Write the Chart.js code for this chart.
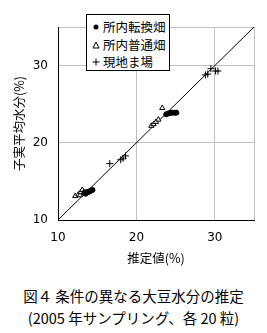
<!DOCTYPE html>
<html>
<head>
<meta charset="utf-8">
<script src="https://cdn.jsdelivr.net/npm/chart.js@4"></script>
<style>
    body { margin: 0; background: #fff; }
    #wrap { position: relative; width: 267px; height: 333px; font-family: "Noto Sans CJK JP", sans-serif; }
    #grafico { position: absolute; left: 0; top: 0; }
    #legenda { position: absolute; left: 86px; top: 14px; width: 82px; height: 55px; border: 1px solid #000; background: #fff; font-size: 12.5px; }
    .item { position: absolute; left: 0; height: 18px; line-height: 18px; white-space: nowrap; }
    .item svg { position: absolute; left: 5px; top: 5px; }
    .item span { position: absolute; left: 16px; top: 0; }
    .legenda_fig { position: absolute; left: 0; width: 267px; text-align: center; font-size: 14.5px; white-space: nowrap; }
</style>
</head>
<body>
<div id="wrap">
    <canvas id="grafico" width="267" height="270"></canvas>
    <div id="legenda"></div>
    <div class="legenda_fig" style="top: 285px;">図４ 条件の異なる大豆水分の推定</div>
    <div class="legenda_fig" style="top: 307px;">(2005 年サンプリング、各 20 粒)</div>
</div>
<script>
'use strict';

const series = ['所内転換畑', '所内普通畑', '現地ま場'];

const tenkan_x = [13.4, 13.5, 13.6, 13.8, 14.0, 14.2, 14.4, 23.8, 24.1, 24.4, 24.6, 24.9, 25.1];
const tenkan_y = [13.5, 13.4, 13.6, 13.6, 13.7, 13.8, 13.9, 23.7, 23.8, 23.9, 23.9, 23.9, 23.9];

const futsu_x = [12.2, 12.6, 12.8, 12.9, 13.1, 13.3, 21.9, 22.2, 22.5, 22.8, 23.3];
const futsu_y = [13.1, 13.3, 13.2, 13.6, 13.9, 13.6, 22.2, 22.4, 22.7, 23.0, 24.5];

const genchi_x = [16.6, 18.0, 18.3, 18.6, 28.8, 29.1, 29.5, 30.1, 30.4];
const genchi_y = [17.3, 17.8, 18.0, 18.3, 28.8, 28.9, 29.6, 29.3, 29.3];

const eixo_min = 10, eixo_max = 35, eixo_passo = 10;

function pontos(xs, ys)
{
    return xs.map((v, i) => ({x: v, y: ys[i]}));
}

const fonteTicks = {family: 'DejaVu Sans', size: 12};
const fonteTitulo = {family: 'Noto Sans CJK JP', size: 12.5};

function eixo(titulo, ehX)
{
    return {
        type: 'linear',
        min: eixo_min,
        max: eixo_max,
        grid: { color: '#c0c0c0', lineWidth: 1, drawTicks: false },
        border: { color: '#000', width: 1 },
        ticks: {
            stepSize: eixo_passo,
            color: '#000',
            font: fonteTicks,
            padding: ehX ? 11 : 10,
            callback: (v) => (v % eixo_passo === 0 ? v : '')
        },
        title: {
            display: true,
            text: titulo,
            color: '#000',
            font: fonteTitulo,
            padding: ehX ? {top: 0, bottom: 4} : {top: 12, bottom: 0}
        },
        afterFit: function(scale) {
            if (ehX) scale.height = 50;
            else scale.width = 58;
        }
    };
}

const ctx = document.getElementById('grafico');

new Chart(ctx, {
    type: 'scatter',
    data: {
        datasets: [
            {
                label: series[0],
                data: pontos(tenkan_x, tenkan_y),
                pointStyle: 'circle',
                pointRadius: 2.5,
                backgroundColor: '#000',
                borderColor: '#000',
                borderWidth: 1
            },
            {
                label: series[1],
                data: pontos(futsu_x, futsu_y),
                pointStyle: 'triangle',
                pointRadius: 3,
                backgroundColor: '#fff',
                borderColor: '#000',
                borderWidth: 1
            },
            {
                label: series[2],
                data: pontos(genchi_x, genchi_y),
                pointStyle: 'cross',
                pointRadius: 3.5,
                borderColor: '#000',
                borderWidth: 1
            },
            {
                label: '1:1',
                type: 'line',
                data: [{x: eixo_min, y: eixo_min}, {x: eixo_max, y: eixo_max}],
                borderColor: '#000',
                borderWidth: 1,
                pointRadius: 0,
                fill: false
            }
        ]
    },
    options: {
        responsive: false,
        animation: false,
        layout: { padding: {left: 0, top: 27, right: 13, bottom: 0} },
        plugins: {
            legend: { display: false },
            tooltip: { enabled: false }
        },
        scales: {
            x: eixo('推定値(%)', true),
            y: eixo('子実平均水分(%)', false)
        }
    }
});

// legenda em HTML dentro da área do gráfico
const marcadores = [
    '<svg width="8" height="8"><circle cx="4" cy="4" r="2.5" fill="#000"/></svg>',
    '<svg width="8" height="8"><polygon points="4,1 7,7 1,7" fill="#fff" stroke="#000" stroke-width="1"/></svg>',
    '<svg width="8" height="8"><path d="M4 0.5 V7.5 M0.5 4 H7.5" stroke="#000" stroke-width="1"/></svg>'
];
let html = '';
series.forEach((nome, i) => {
    html += `<div class="item" style="top:${3 + i * 17.5}px">${marcadores[i]}<span>${nome}</span></div>`;
});
document.getElementById('legenda').innerHTML = html;
</script>
</body>
</html>
